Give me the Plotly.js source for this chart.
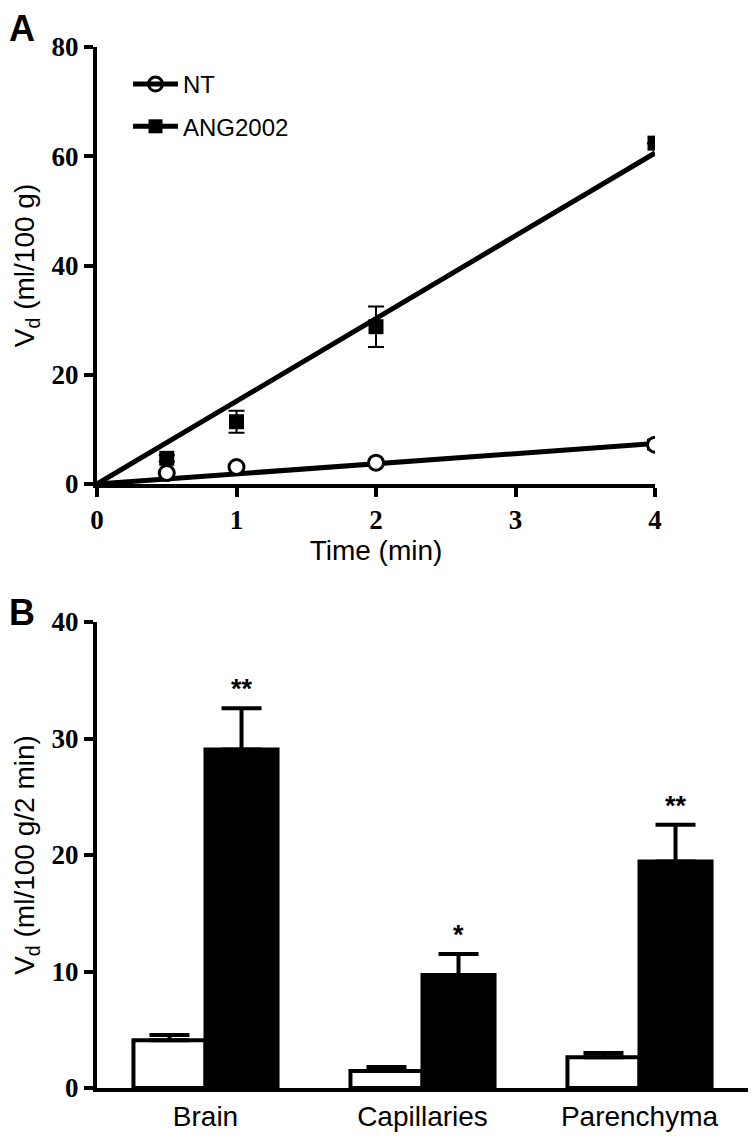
<!DOCTYPE html>
<html><head><meta charset="utf-8">
<script src="https://cdn.plot.ly/plotly-3.0.1.min.js"></script>
<style>html,body{margin:0;padding:0;background:#fff}</style>
</head><body>
<div id="chart" style="width:755px;height:1139px"></div>
<script>
// Panel A data
const timeMin = [0.5, 1, 2, 4];
const ntVd = [2.0, 3.1, 3.9, 7.2];
const ntErr = [0.4, 0.5, 0.5, 0.9];
const angVd = [4.7, 11.4, 28.8, 62.4];
const angErr = [0.6, 2.0, 3.7, null];
const fitX = [0, 4];
const ntFit = [0, 7.4];
const angFit = [0, 60.6];
// Panel B data
const regions = ['Brain', 'Capillaries', 'Parenchyma'];
const ntBar = [4.1, 1.45, 2.65];
const ntBarErr = [0.45, 0.35, 0.35];
const angBar = [29.05, 9.7, 19.45];
const angBarErr = [3.55, 1.8, 3.15];
const stars = ['**', '*', '**'];

const W = 755, H = 1139;
const serifBold = {family: 'Liberation Serif', size: 27, color: '#000', weight: 700};
const sans = {family: 'Liberation Sans, Arial, sans-serif', size: 24, color: '#000'};
const titleFont = {family: 'Liberation Sans, Arial, sans-serif', size: 28, color: '#000'};
const catFont = {family: 'Liberation Sans, Arial, sans-serif', size: 28, color: '#000'};
const bargap = 0.336;
const blackOffset = (1 - bargap) / 4;

const traces = [
  {x: fitX, y: ntFit, mode: 'lines', line: {color: '#000', width: 5}, showlegend: false, xaxis: 'x', yaxis: 'y', hoverinfo: 'skip'},
  {x: fitX, y: angFit, mode: 'lines', line: {color: '#000', width: 5}, showlegend: false, xaxis: 'x', yaxis: 'y', hoverinfo: 'skip'},
  {x: timeMin, y: ntVd, mode: 'markers', showlegend: false, xaxis: 'x', yaxis: 'y',
   marker: {symbol: 'circle', size: 15, color: '#fff', line: {color: '#000', width: 3}},
   error_y: {type: 'data', array: ntErr, color: '#000', thickness: 2, width: 8}},
  {x: timeMin, y: angVd, mode: 'markers', showlegend: false, xaxis: 'x', yaxis: 'y',
   marker: {symbol: 'square', size: 15, color: '#000', line: {color: '#000', width: 0}},
   error_y: {type: 'data', array: angErr, color: '#000', thickness: 2, width: 8}},
  // legend entries
  {x: [null], y: [null], name: 'NT', mode: 'lines+markers', xaxis: 'x', yaxis: 'y', legendgroup: 'nt',
   line: {color: '#000', width: 5}, marker: {symbol: 'circle-open', size: 14, color: '#000', line: {color: '#000', width: 3}}},
  {x: [null], y: [null], name: 'ANG2002', mode: 'lines+markers', xaxis: 'x', yaxis: 'y', legendgroup: 'ang',
   line: {color: '#000', width: 5}, marker: {symbol: 'square', size: 14, color: '#000'}},
  // Panel B bars
  {type: 'bar', x: regions, y: ntBar, xaxis: 'x2', yaxis: 'y2', showlegend: false,
   marker: {color: '#fff', line: {color: '#000', width: 4}},
   error_y: {type: 'data', symmetric: false, array: ntBarErr, arrayminus: [0,0,0], color: '#000', thickness: 4, width: 20}},
  {type: 'bar', x: regions, y: angBar, xaxis: 'x2', yaxis: 'y2', showlegend: false,
   marker: {color: '#000', line: {color: '#000', width: 4}},
   error_y: {type: 'data', symmetric: false, array: angBarErr, arrayminus: [0,0,0], color: '#000', thickness: 4, width: 20}}
];

const annotations = [
  {text: '<b>A</b>', xref: 'paper', yref: 'paper', x: 7/W, y: 1 - 6/H, xanchor: 'left', yanchor: 'top', showarrow: false,
   font: {family: 'Liberation Sans, Arial, sans-serif', size: 36, color: '#000'}},
  {text: '<b>B</b>', xref: 'paper', yref: 'paper', x: 7/W, y: 1 - 590/H, xanchor: 'left', yanchor: 'top', showarrow: false,
   font: {family: 'Liberation Sans, Arial, sans-serif', size: 36, color: '#000'}}
];
regions.forEach((r, i) => {
  annotations.push({text: '<b>' + stars[i] + '</b>', xref: 'x2', yref: 'y2', x: i + blackOffset, y: angBar[i] + angBarErr[i],
    xanchor: 'center', yanchor: 'bottom', yshift: 2, showarrow: false,
    font: {family: 'Liberation Sans, Arial, sans-serif', size: 27, color: '#000'}});
});

const axisCommon = {showline: true, linecolor: '#000', linewidth: 4, ticks: 'outside', ticklen: 9, tickwidth: 4, tickcolor: '#000',
  showgrid: false, zeroline: false, tickfont: serifBold, fixedrange: true};

const layout = {
  width: W, height: H, margin: {l: 0, r: 0, t: 0, b: 0}, paper_bgcolor: '#fff', plot_bgcolor: '#fff',
  showlegend: true,
  legend: {x: 128/W, y: 1 - 62/H, xanchor: 'left', yanchor: 'top', font: sans, bgcolor: 'rgba(0,0,0,0)', itemwidth: 45,
    traceorder: 'grouped', tracegroupgap: 8},
  barmode: 'group', bargap: bargap, bargroupgap: 0,
  xaxis: Object.assign({}, axisCommon, {domain: [97/W, 655/W], range: [0, 4], tickvals: [0,1,2,3,4], anchor: 'y',
    title: {text: 'Time (min)', font: titleFont, standoff: 4}}),
  yaxis: Object.assign({}, axisCommon, {domain: [1 - 484/H, 1 - 47/H], range: [0, 80], tickvals: [0,20,40,60,80], anchor: 'x',
    title: {text: 'V<sub>d</sub> (ml/100 g)', font: titleFont, standoff: 10}}),
  xaxis2: Object.assign({}, axisCommon, {domain: [97/W, 748/W], range: [-0.5, 2.5], anchor: 'y2', ticks: '', tickfont: catFont}),
  yaxis2: Object.assign({}, axisCommon, {domain: [1 - 1088/H, 1 - 622/H], range: [0, 40], tickvals: [0,10,20,30,40], anchor: 'x2',
    title: {text: 'V<sub>d</sub> (ml/100 g/2 min)', font: titleFont, standoff: 10}}),
  annotations: annotations
};

Plotly.newPlot('chart', traces, layout, {staticPlot: true, displayModeBar: false});
</script>
</body></html>
